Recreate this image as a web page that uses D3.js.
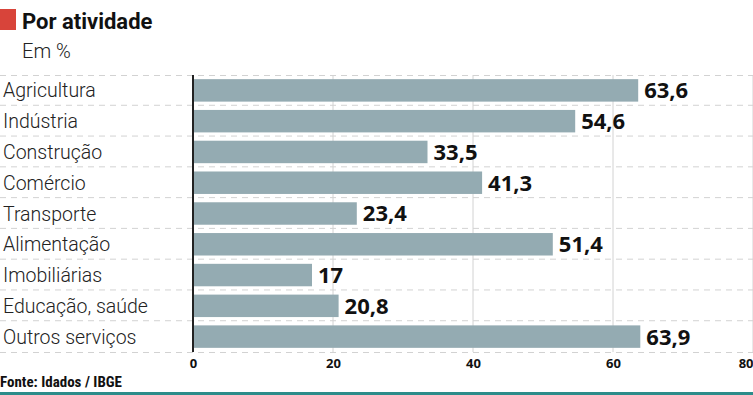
<!DOCTYPE html>
<html>
<head>
<meta charset="utf-8">
<script src="https://cdn.jsdelivr.net/npm/d3@7"></script>
<style>
	body { margin: 0; background: #ffffff; }
	svg { display: block; }
</style>
</head>
<body>
<div id="chart"></div>
<script>
const svg_dimensions = { width: 753, height: 395 };
const margin = { top: 75, bottom: 43, left: 193, right: 0 };

const title = "Por atividade";
const subtitle = "Em %";
const source = "Fonte: Idados / IBGE";

// data
const categories = [
	"Agricultura",
	"Indústria",
	"Construção",
	"Comércio",
	"Transporte",
	"Alimentação",
	"Imobiliárias",
	"Educação, saúde",
	"Outros serviços",
];
const values = [63.6, 54.6, 33.5, 41.3, 23.4, 51.4, 17, 20.8, 63.9];
const value_labels = ["63,6", "54,6", "33,5", "41,3", "23,4", "51,4", "17", "20,8", "63,9"];
const x_ticks = [0, 20, 40, 60, 80];

const bar_color = "#94abb2";
const grid_color = "#d2d2d2";

const svg = d3.select("#chart")
	.append("svg")
		.attr("width", svg_dimensions.width)
		.attr("height", svg_dimensions.height);

const plot_bottom = svg_dimensions.height - margin.bottom;

const x = d3.scaleLinear()
	.domain([0, 80])
	.range([margin.left, svg_dimensions.width - margin.right]);
const y = d3.scaleBand()
	.domain(categories)
	.range([margin.top, plot_bottom])
	.paddingInner(0.27)
	.paddingOuter(0.135);

// header
svg.append("rect")
	.attr("x", 0)
	.attr("y", 9)
	.attr("width", 16)
	.attr("height", 21)
	.attr("fill", "#d8443a");
svg.append("text")
	.attr("x", 22)
	.attr("y", 29)
	.attr("font-family", "Roboto, sans-serif")
	.attr("font-weight", 700)
	.attr("font-size", 22)
	.attr("fill", "#111")
	.text(title);
svg.append("text")
	.attr("x", 22)
	.attr("y", 58)
	.attr("font-family", "Roboto, sans-serif")
	.attr("font-weight", 300)
	.attr("font-size", 20)
	.attr("fill", "#222")
	.text(subtitle);

// vertical grid lines
svg.append("g")
	.selectAll("line")
	.data(x_ticks.slice(1))
	.join("line")
		.attr("x1", d => x(d))
		.attr("x2", d => x(d))
		.attr("y1", margin.top)
		.attr("y2", plot_bottom)
		.attr("stroke", grid_color)
		.attr("stroke-width", 1);

// dashed row separators
const separators = categories.map(c => y(c) - y.step() * y.paddingInner() / 2 - 1);
separators.push(plot_bottom);
separators[0] = margin.top;
svg.append("g")
	.selectAll("line")
	.data(separators)
	.join("line")
		.attr("x1", 0)
		.attr("x2", svg_dimensions.width)
		.attr("y1", d => d + 0.5)
		.attr("y2", d => d + 0.5)
		.attr("stroke", grid_color)
		.attr("stroke-width", 1)
		.attr("stroke-dasharray", "6,5");

// bars
svg.append("g")
	.selectAll("rect")
	.data(values)
	.join("rect")
		.attr("x", x(0))
		.attr("y", (d, i) => y(categories[i]))
		.attr("width", d => x(d) - x(0))
		.attr("height", y.bandwidth())
		.attr("fill", bar_color);

// value labels
svg.append("g")
	.selectAll("text")
	.data(values)
	.join("text")
		.attr("x", d => x(d) + 6)
		.attr("y", (d, i) => y(categories[i]) + y.bandwidth() / 2)
		.attr("dy", "0.36em")
		.attr("font-family", "'Open Sans', sans-serif")
		.attr("font-weight", 700)
		.attr("font-size", 22)
		.attr("fill", "#111")
		.text((d, i) => value_labels[i]);

// category labels
svg.append("g")
	.selectAll("text")
	.data(categories)
	.join("text")
		.attr("x", 3)
		.attr("y", d => y(d) + y.bandwidth() / 2)
		.attr("dy", "0.36em")
		.attr("font-family", "Roboto, sans-serif")
		.attr("font-weight", 300)
		.attr("font-size", 19.5)
		.attr("fill", "#222")
		.text(d => d);

// zero axis
svg.append("line")
	.attr("x1", x(0))
	.attr("x2", x(0))
	.attr("y1", margin.top)
	.attr("y2", plot_bottom)
	.attr("stroke", "#222")
	.attr("stroke-width", 2);

// x axis labels
const x_axis = svg.append("g")
	.attr("transform", "translate(0," + (plot_bottom + 7) + ")")
	.call(d3.axisBottom(x).tickValues(x_ticks).tickSize(0).tickPadding(0));
x_axis.select(".domain").remove();
x_axis.selectAll("text")
	.attr("font-family", "'Open Sans', sans-serif")
	.attr("font-weight", 700)
	.attr("font-size", 13)
	.attr("fill", "#111");
// last tick sits on the right edge
x_axis.selectAll("text")
	.filter(d => d === x_ticks[x_ticks.length - 1])
	.attr("text-anchor", "end")
	.attr("dx", 0);

// source
svg.append("text")
	.attr("x", 0)
	.attr("y", 387)
	.attr("font-family", "'Liberation Sans Narrow', 'Roboto Condensed', sans-serif")
	.attr("font-weight", 700)
	.attr("font-size", 15)
	.attr("fill", "#111")
	.text(source);

// bottom rule
svg.append("rect")
	.attr("x", 0)
	.attr("y", 392)
	.attr("width", svg_dimensions.width)
	.attr("height", 3)
	.attr("fill", "#2c8c8a");
</script>
</body>
</html>
